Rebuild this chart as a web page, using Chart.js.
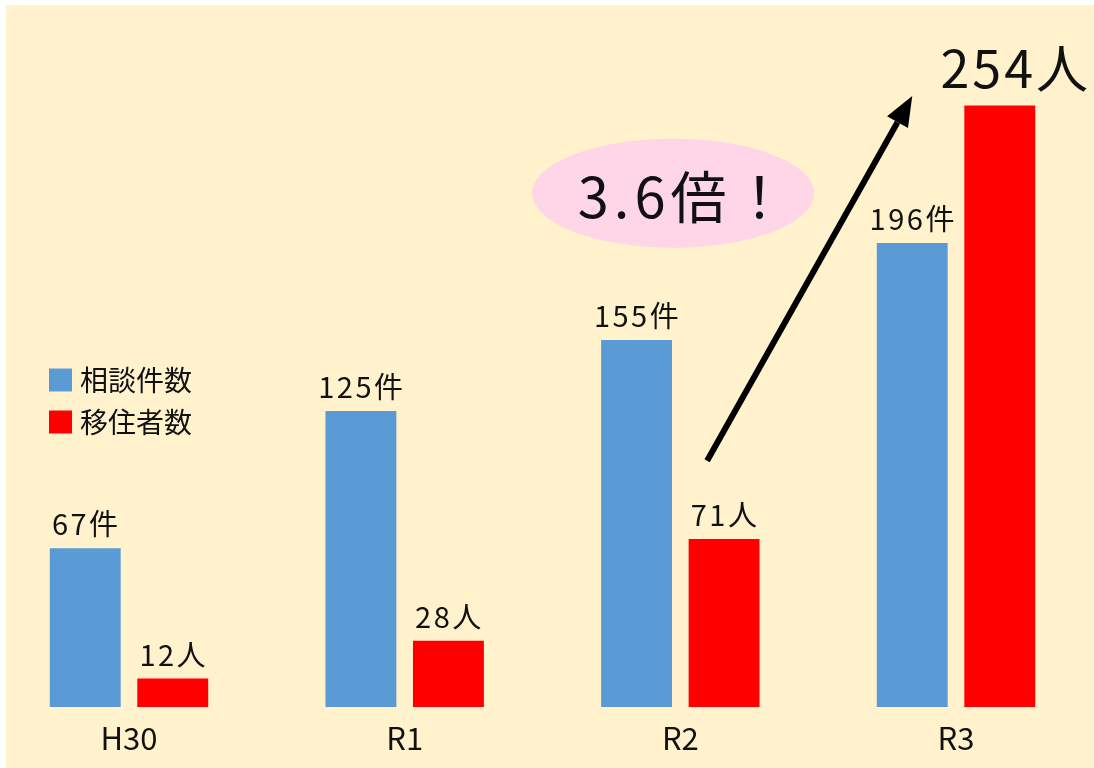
<!DOCTYPE html>
<html><head><meta charset="utf-8">
<script src="https://cdn.jsdelivr.net/npm/chart.js@4"></script>
<style>
html,body{margin:0;padding:0;background:#fff;}
#wrap{position:relative;width:1094px;height:768px;overflow:hidden;}
#bg{position:absolute;left:6px;top:5px;right:0;bottom:0;background:#FFF2CC;}
canvas{position:absolute;left:0;top:0;}
</style></head><body>
<div id="wrap"><div id="bg"></div><canvas id="c" width="1094" height="768"></canvas></div>
<script>
const categories = ['H30', 'R1', 'R2', 'R3'];
const consultations = [67, 125, 155, 196];
const migrants = [12, 28, 71, 254];
const seriesNames = ['相談件数', '移住者数'];
const units = ['件', '人'];
const ratioText = '3.6倍！';

const FONT = '"Noto Sans CJK JP", "Noto Sans", sans-serif';

const labelPlugin = {
  id: 'valueLabels',
  afterDatasetsDraw(chart) {
    const ctx = chart.ctx;
    chart.data.datasets.forEach((ds, di) => {
      const meta = chart.getDatasetMeta(di);
      meta.data.forEach((bar, i) => {
        const big = (di === 1 && i === ds.data.length - 1);
        ctx.save();
        ctx.font = (big ? '52px ' : '29px ') + FONT;
        ctx.letterSpacing = big ? '3px' : '2.5px';
        ctx.fillStyle = '#111';
        ctx.textAlign = 'center';
        ctx.textBaseline = 'alphabetic';
        ctx.fillText(ds.data[i] + units[di], bar.x + (big ? 16 : 1), bar.y - (big ? 18 : 13));
        ctx.restore();
      });
    });
  }
};

const legendPlugin = {
  id: 'insideLegend',
  afterDraw(chart) {
    const ctx = chart.ctx;
    chart.data.datasets.forEach((ds, di) => {
      const cy = 380 + di * 42;
      ctx.save();
      ctx.fillStyle = ds.backgroundColor;
      ctx.fillRect(49, cy - 11.5, 23, 23);
      ctx.font = '28px ' + FONT;
      ctx.fillStyle = '#111';
      ctx.textAlign = 'left';
      ctx.textBaseline = 'middle';
      ctx.fillText(ds.label, 80, cy);
      ctx.restore();
    });
  }
};

const annotationPlugin = {
  id: 'growthNote',
  afterDraw(chart) {
    const ctx = chart.ctx;
    const y = chart.scales.y;
    const redR2 = chart.getDatasetMeta(1).data[2];
    const blueR3 = chart.getDatasetMeta(0).data[3];
    // ellipse + text
    const ex = redR2.x - 51, ey = y.getPixelForValue(217);
    ctx.save();
    ctx.fillStyle = '#FFD5E8';
    ctx.beginPath();
    ctx.ellipse(ex, ey, 141, 54.5, 0, 0, Math.PI * 2);
    ctx.fill();
    ctx.font = '56px ' + FONT;
    ctx.letterSpacing = '5px';
    ctx.fillStyle = '#111';
    ctx.textAlign = 'center';
    ctx.textBaseline = 'middle';
    ctx.fillText(ratioText, ex + 12, ey + 4);
    ctx.restore();
    // arrow
    const x1 = redR2.x - 17, y1 = y.getPixelForValue(104);
    const x2 = blueR3.x, y2 = y.getPixelForValue(258);
    const ang = Math.atan2(y2 - y1, x2 - x1);
    const hl = 30, hw = 12;
    const bx = x2 - hl * Math.cos(ang), by = y2 - hl * Math.sin(ang);
    ctx.save();
    ctx.strokeStyle = '#000';
    ctx.lineWidth = 6;
    ctx.beginPath();
    ctx.moveTo(x1, y1);
    ctx.lineTo(bx, by);
    ctx.stroke();
    ctx.fillStyle = '#000';
    ctx.beginPath();
    ctx.moveTo(x2, y2);
    ctx.lineTo(bx + hw * Math.sin(ang), by - hw * Math.cos(ang));
    ctx.lineTo(bx - hw * Math.sin(ang), by + hw * Math.cos(ang));
    ctx.closePath();
    ctx.fill();
    ctx.restore();
  }
};

new Chart(document.getElementById('c'), {
  type: 'bar',
  data: {
    labels: categories,
    datasets: [
      { label: seriesNames[0], data: consultations, backgroundColor: '#5B9BD5' },
      { label: seriesNames[1], data: migrants, backgroundColor: '#FF0000' }
    ]
  },
  options: {
    responsive: false,
    animation: false,
    devicePixelRatio: 1,
    layout: { padding: { left: 129, right: 138, top: 44, bottom: 0 } },
    datasets: { bar: { categoryPercentage: 0.635, barPercentage: 0.81, clip: false } },
    plugins: { legend: { display: false }, tooltip: { enabled: false } },
    scales: {
      x: {
        offset: false,
        grid: { display: false, drawTicks: false },
        border: { display: false },
        ticks: { color: '#111', font: { size: 31, family: FONT }, padding: 13, maxRotation: 0, autoSkip: false },
        afterFit(scale) { scale.height = 61; }
      },
      y: { display: false, min: 0, max: 280 }
    }
  },
  plugins: [labelPlugin, legendPlugin, annotationPlugin]
});
</script>
</body></html>
